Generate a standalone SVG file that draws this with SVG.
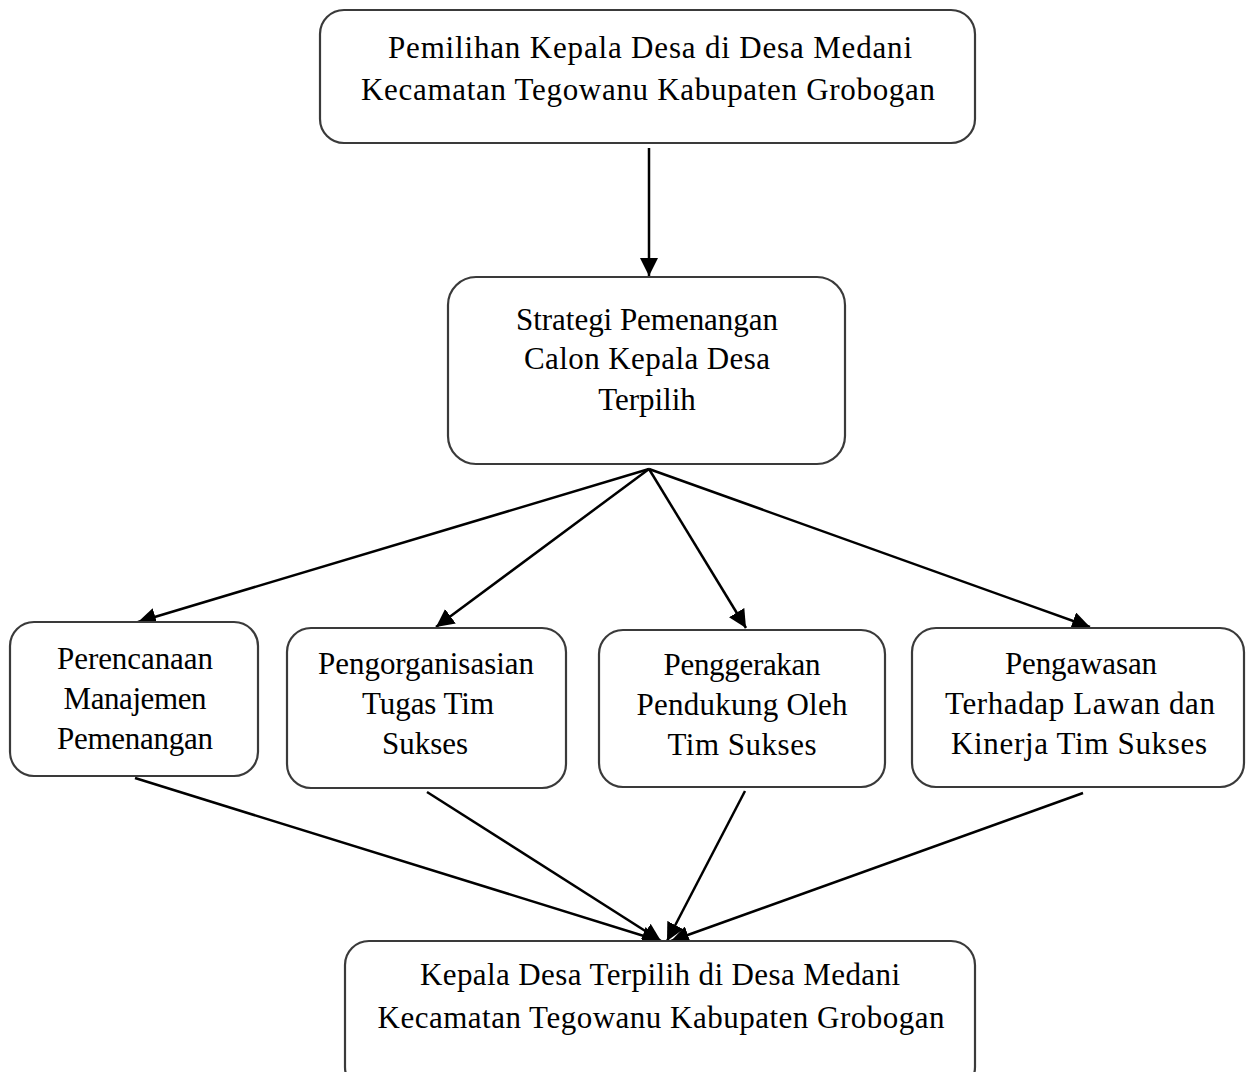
<svg xmlns="http://www.w3.org/2000/svg" width="1246" height="1072" viewBox="0 0 1246 1072">
<style>
.box{fill:#fff;stroke:#3a3a3a;stroke-width:2.2}
.t{font-family:"Liberation Serif","Times New Roman",serif;font-size:31px;fill:#000;text-anchor:middle}
.c{stroke:#000;stroke-width:2.5;fill:none;marker-end:url(#ah)}
</style>
<defs>
<marker id="ah" markerUnits="userSpaceOnUse" markerWidth="20" markerHeight="18" refX="18" refY="9" orient="auto">
<path d="M0,0 L18,9 L0,18 Z" fill="#000"/>
</marker>
</defs>
<rect width="1246" height="1072" fill="#fff"/>
<g id="connectors">
<line class="c" x1="649" y1="148" x2="649" y2="276"/>
<line class="c" x1="649" y1="469" x2="138" y2="622"/>
<line class="c" x1="649" y1="469" x2="436" y2="627"/>
<line class="c" x1="649" y1="469" x2="746" y2="628"/>
<line class="c" x1="649" y1="469" x2="1090" y2="627"/>
<line class="c" x1="135" y1="778" x2="660" y2="941"/>
<line class="c" x1="427" y1="792" x2="661" y2="941"/>
<line class="c" x1="745" y1="791" x2="667" y2="941"/>
<line class="c" x1="1083" y1="793" x2="671" y2="941"/>
</g>
<g id="n1">
<rect class="box" x="320" y="10" width="655" height="133" rx="24"/>
<text class="t" x="650" y="58" textLength="524" lengthAdjust="spacing">Pemilihan  Kepala Desa di Desa Medani</text>
<text class="t" x="648" y="100" textLength="574" lengthAdjust="spacing">Kecamatan Tegowanu  Kabupaten Grobogan</text>
</g>
<g id="n2">
<rect class="box" x="448" y="277" width="397" height="187" rx="28"/>
<text class="t" x="647" y="330" textLength="262" lengthAdjust="spacing">Strategi  Pemenangan</text>
<text class="t" x="647" y="369" textLength="246" lengthAdjust="spacing">Calon Kepala Desa</text>
<text class="t" x="647" y="410">Terpilih</text>
</g>
<g id="n3">
<rect class="box" x="10" y="622" width="248" height="154" rx="24"/>
<text class="t" x="135" y="669" textLength="156" lengthAdjust="spacing">Perencanaan</text>
<text class="t" x="135" y="709" textLength="143" lengthAdjust="spacing">Manajemen</text>
<text class="t" x="135" y="749" textLength="156" lengthAdjust="spacing">Pemenangan</text>
</g>
<g id="n4">
<rect class="box" x="287" y="628" width="279" height="160" rx="24"/>
<text class="t" x="426" y="674" textLength="216" lengthAdjust="spacing">Pengorganisasian</text>
<text class="t" x="428" y="714" textLength="132" lengthAdjust="spacing">Tugas  Tim</text>
<text class="t" x="425" y="754">Sukses</text>
</g>
<g id="n5">
<rect class="box" x="599" y="630" width="286" height="157" rx="24"/>
<text class="t" x="742" y="675" textLength="157" lengthAdjust="spacing">Penggerakan</text>
<text class="t" x="742" y="715" textLength="211" lengthAdjust="spacing">Pendukung  Oleh</text>
<text class="t" x="742" y="755" textLength="149" lengthAdjust="spacing">Tim  Sukses</text>
</g>
<g id="n6">
<rect class="box" x="912" y="628" width="332" height="159" rx="24"/>
<text class="t" x="1081" y="674" textLength="152" lengthAdjust="spacing">Pengawasan</text>
<text class="t" x="1080" y="714" textLength="270" lengthAdjust="spacing">Terhadap Lawan  dan</text>
<text class="t" x="1079" y="754" textLength="256" lengthAdjust="spacing">Kinerja Tim  Sukses</text>
</g>
<g id="n7">
<rect class="box" x="345" y="941" width="630" height="150" rx="24"/>
<text class="t" x="660" y="985" textLength="480" lengthAdjust="spacing">Kepala Desa Terpilih  di Desa Medani</text>
<text class="t" x="661" y="1028" textLength="567" lengthAdjust="spacing">Kecamatan  Tegowanu  Kabupaten  Grobogan</text>
</g>
</svg>
